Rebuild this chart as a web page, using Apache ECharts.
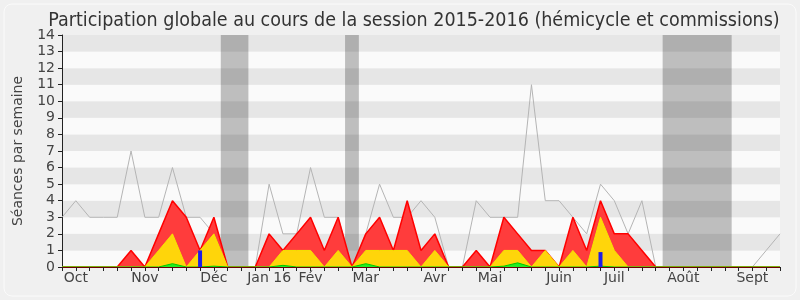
<!DOCTYPE html>
<html>
<head>
<meta charset="utf-8">
<script src="https://cdn.jsdelivr.net/npm/echarts@6/dist/echarts.min.js"></script>
<style>
  html, body { margin: 0; padding: 0; background: #f0f0f0; }
  #chart { width: 800px; height: 300px; }
</style>
</head>
<body>
<div id="chart"></div>
<script>
// une valeur par semaine, de fin septembre 2015 à septembre 2016
var seances = [3, 4, 3, 3, 3, 7, 3, 3, 6, 3, 3, 2, 0, 0, 0, 5, 2, 2, 6, 3, 3, 0, 2, 5, 3, 3, 4, 3, 0, 0,
  4, 3, 3, 3, 11, 4, 4, 3, 2, 5, 4, 2, 4, 0, 0, 0, 0, 0, 0, 0, 0, 1, 2];
var presences = [0, 0, 0, 0, 0, 1, 0, 2, 4, 3, 1, 3, 0, 0, 0, 2, 1, 2, 3, 1, 3, 0, 2, 3, 1, 4, 1, 2, 0, 0,
  1, 0, 3, 2, 1, 1, 0, 3, 1, 4, 2, 2, 1, 0, 0, 0, 0, 0, 0, 0, 0, 0, 0];
var hemicycle = [0, 0, 0, 0, 0, 0, 0, 1, 2, 0, 1, 2, 0, 0, 0, 0, 1, 1, 1, 0, 1, 0, 1, 1, 1, 1, 0, 1, 0, 0,
  0, 0, 1, 1, 0, 1, 0, 1, 0, 3, 1, 0, 0, 0, 0, 0, 0, 0, 0, 0, 0, 0, 0];
var interventions = [0, 0, 0, 0, 0, 0, 0, 0, 0.2, 0, 0, 0.05, 0, 0, 0, 0, 0.1, 0, 0, 0, 0, 0, 0.2, 0, 0, 0, 0, 0, 0, 0,
  0, 0, 0.05, 0.25, 0, 0, 0, 0, 0, 0.05, 0, 0, 0, 0, 0, 0, 0, 0, 0, 0, 0, 0, 0];
var questions = [0, 0, 0, 0, 0, 0, 0, 0, 0, 0, 1, 0, 0, 0, 0, 0, 0, 0, 0, 0, 0, 0, 0, 0, 0, 0, 0, 0, 0, 0,
  0, 0, 0, 0, 0, 0, 0, 0, 0, 0.9, 0, 0, 0, 0, 0, 0, 0, 0, 0, 0, 0, 0, 0];
// vacances parlementaires (en semaines)
var vacances = [[11.5, 13.5], [20.5, 21.5], [43.5, 48.5]];
// étiquettes des mois
var moisIndex = [1, 6, 11, 15, 18, 22, 27, 31, 36, 40, 45, 50];
var moisNoms = ["Oct", "Nov", "Déc", "Jan 16", "Fév", "Mar", "Avr", "Mai", "Juin", "Juil", "Août", "Sept"];

function pts(arr) {
  return arr.map(function (v, i) { return [i, v]; });
}

var chart = echarts.init(document.getElementById("chart"));
var font = "DejaVu Sans";

var option = {
  backgroundColor: "#f0f0f0",
  animation: false,
  title: {
    text: "Participation globale au cours de la session 2015-2016 (hémicycle et commissions)",
    left: 409,
    top: 6,
    textAlign: "center",
    textStyle: { fontFamily: "DejaVu Sans Condensed, DejaVu Sans", fontSize: 19.5, fontWeight: "normal", color: "#333" }
  },
  graphic: [{
    type: "rect",
    shape: { x: 4, y: 4, width: 792, height: 292, r: 8 },
    style: { fill: "none", stroke: "#fbfbfb", lineWidth: 1 },
    silent: true
  }],
  grid: { left: 62, right: 20, top: 35, bottom: 33 },
  xAxis: {
    type: "value",
    min: 0,
    max: 52,
    interval: 1,
    z: 10,
    axisLine: { onZero: false, lineStyle: { color: "#6a0000", width: 1 } },
    axisTick: { show: true, length: 4, lineStyle: { color: "#222" } },
    splitLine: { show: false },
    axisLabel: {
      margin: 4,
      fontFamily: font,
      fontSize: 14,
      color: "#444",
      formatter: function (v) {
        var k = moisIndex.indexOf(v);
        return k >= 0 ? moisNoms[k] : "";
      }
    }
  },
  yAxis: {
    type: "value",
    min: 0,
    max: 14,
    interval: 1,
    name: "Séances par semaine",
    nameLocation: "middle",
    nameGap: 37,
    nameTextStyle: { fontFamily: font, fontSize: 14, color: "#444" },
    axisLine: { show: true, lineStyle: { color: "#222" } },
    axisTick: { show: true, length: 4, lineStyle: { color: "#222" } },
    axisLabel: { margin: 7, fontFamily: font, fontSize: 14, color: "#444" },
    splitLine: { show: false },
    splitArea: { show: true, areaStyle: { color: ["#fafafa", "#e6e6e6"] } }
  },
  series: [
    {
      name: "Séances",
      type: "line",
      data: pts(seances),
      symbol: "none",
      lineStyle: { color: "#b4b4b4", width: 1 },
      z: 2,
      markArea: {
        silent: true,
        itemStyle: { color: "rgba(0,0,0,0.24)" },
        data: vacances.map(function (v) { return [{ xAxis: v[0] }, { xAxis: v[1] }]; })
      }
    },
    {
      name: "Présences",
      type: "line",
      data: pts(presences),
      symbol: "none",
      lineStyle: { color: "#ff0000", width: 1.5 },
      areaStyle: { color: "#ff3c3c", opacity: 1 },
      z: 3
    },
    {
      name: "Hémicycle",
      type: "line",
      data: pts(hemicycle),
      symbol: "none",
      lineStyle: { color: "#f5e400", width: 1 },
      areaStyle: { color: "#ffd50a", opacity: 1 },
      z: 4
    },
    {
      name: "Interventions",
      type: "line",
      data: pts(interventions),
      symbol: "none",
      lineStyle: { color: "#00c800", width: 1 },
      areaStyle: { color: "#22ee22", opacity: 1 },
      z: 5
    },
    {
      name: "Questions",
      type: "bar",
      data: pts(questions),
      barWidth: 4,
      itemStyle: { color: "#1e1ee6" },
      z: 6
    }
  ]
};
chart.setOption(option);
</script>
</body>
</html>
